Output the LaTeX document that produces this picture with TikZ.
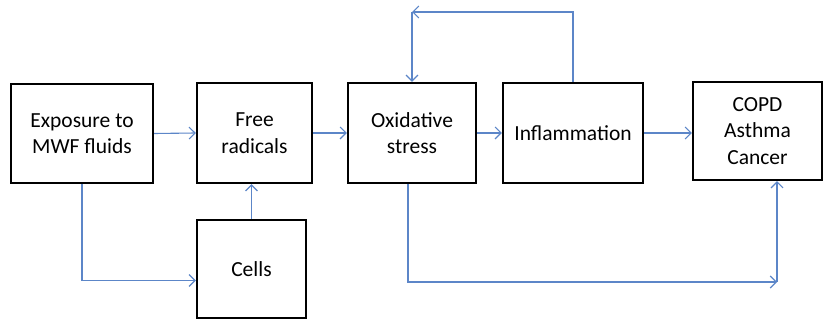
\documentclass[tikz,border=0pt]{standalone}
\usepackage{fontspec}
\setmainfont{Carlito}
\usetikzlibrary{arrows.meta}
\definecolor{conn}{RGB}{92,134,200}
\tikzset{
  box/.style={draw=black, line width=2.4pt, fill=white, align=center, inner sep=0pt,
    font=\fontsize{21.5}{26.5}\selectfont},
  arr/.style={draw=conn, line width=1.1pt, -{Straight Barb[length=6pt,width=12pt,line width=1.1pt]}},
  ln/.style={draw=conn, line width=1.1pt}
}
\begin{document}
\begin{tikzpicture}[x=1pt,y=-1pt]
\useasboundingbox (0,0) rectangle (824,320);
\node[box, minimum width=142pt, minimum height=99pt] (exp) at (82,133.5) {Exposure to\\MWF fluids};
\node[box, minimum width=115pt, minimum height=100pt] (free) at (254.5,133) {Free\\radicals};
\node[box, minimum width=109pt, minimum height=98pt] (cells) at (251.5,269) {Cells};
\node[box, minimum width=128pt, minimum height=100pt] (ox) at (412,133) {Oxidative\\stress};
\node[box, minimum width=140pt, minimum height=100pt] (inf) at (573,133) {Inflammation};
\node[box, minimum width=129pt, minimum height=98pt] (copd) at (757.5,131) {COPD\\Asthma\\Cancer};
\coordinate (top) at (0,12);
\coordinate (br) at (777,282);
\draw[arr] (exp.east) -- (free.west);
\draw[arr] (free.east) -- (ox.west);
\draw[arr] (ox.east) -- (inf.west);
\draw[arr] (inf.east) -- (inf.east -| copd.west);
\draw[arr] (exp.south) |- ([yshift=-11.5pt]cells.west);
\draw[arr] (cells.north) -- (cells.north |- free.south);
\draw[arr] (inf.north) |- (ox.north |- top);
\draw[arr] (ox.north |- top) -- (ox.north);
\draw[arr] ([xshift=-4pt]ox.south) |- (br);
\draw[arr] (br) -- (br |- copd.south);
\end{tikzpicture}
\end{document}
